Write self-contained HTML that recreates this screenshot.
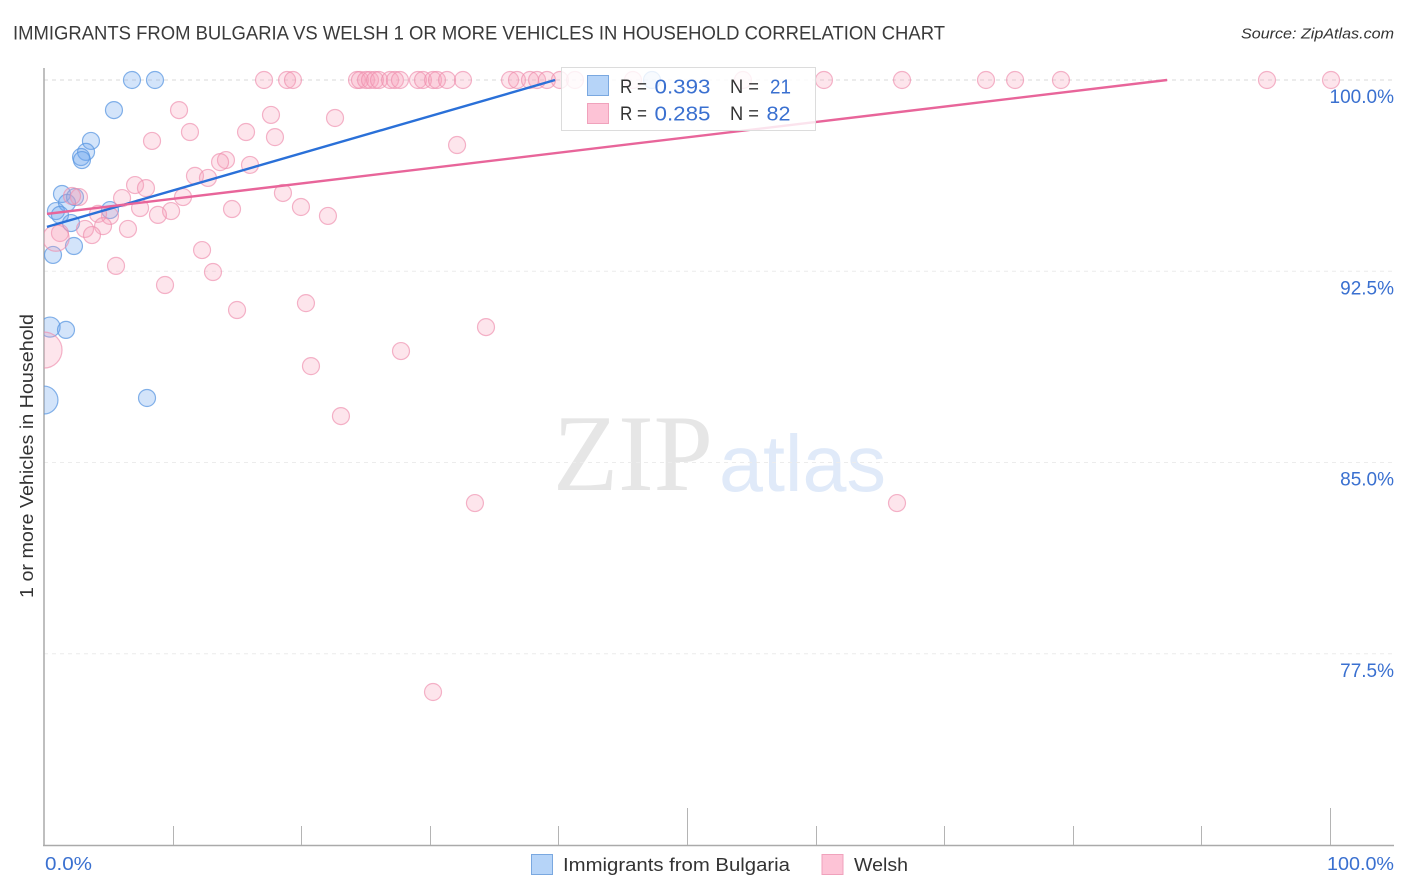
<!DOCTYPE html>
<html lang="en">
<head>
<meta charset="utf-8">
<title>Immigrants from Bulgaria vs Welsh correlation chart</title>
<style>
html,body{margin:0;padding:0;background:#fff;}
svg{display:block;font-family:"Liberation Sans",sans-serif;}
</style>
</head>
<body>
<svg id="chart" xmlns="http://www.w3.org/2000/svg" width="1406" height="892" viewBox="0 0 1406 892">
  <defs><clipPath id="plot-clip"><rect x="44" y="60" width="1360" height="785"/></clipPath></defs>
  <text x="13" y="39.5" font-size="19.5" fill="#3a3a3a" textLength="932" lengthAdjust="spacingAndGlyphs">IMMIGRANTS FROM BULGARIA VS WELSH 1 OR MORE VEHICLES IN HOUSEHOLD CORRELATION CHART</text>
  <text x="1241" y="38.5" font-size="15" font-style="italic" fill="#333" textLength="153" lengthAdjust="spacingAndGlyphs">Source: ZipAtlas.com</text>
  <g id="watermark">
    <text x="553" y="490" font-family="'Liberation Serif',serif" font-size="109" fill="#e6e6e6" textLength="160" lengthAdjust="spacingAndGlyphs">ZIP</text>
    <text x="719" y="491" font-size="80" fill="#e0eaf9" textLength="167" lengthAdjust="spacingAndGlyphs">atlas</text>
  </g>
  <g id="grid"></g>
  <g id="axes"></g>
  <g id="points" clip-path="url(#plot-clip)"></g>
  <g id="trends"></g>
  <g id="stat-legend">
    <rect x="561.5" y="67.5" width="254" height="63" fill="#fff" fill-opacity="0.82" stroke="#dcdcdc"/>
    <rect x="587.5" y="75.5" width="21" height="20" fill="#b6d4f8" stroke="#7aa8e0"/>
    <rect x="587.5" y="103.5" width="21" height="20" fill="#fdc3d6" stroke="#f0a2bc"/>
    <g font-size="19" fill="#333">
      <text x="620" y="93" textLength="27" lengthAdjust="spacingAndGlyphs">R =</text>
      <text x="620" y="120" textLength="27" lengthAdjust="spacingAndGlyphs">R =</text>
      <text x="730" y="93" textLength="29" lengthAdjust="spacingAndGlyphs">N =</text>
      <text x="730" y="120" textLength="29" lengthAdjust="spacingAndGlyphs">N =</text>
    </g>
    <g font-size="20.5" fill="#3a70d0">
      <text x="654.5" y="93.5" textLength="56" lengthAdjust="spacingAndGlyphs">0.393</text>
      <text x="654.5" y="120.5" textLength="56" lengthAdjust="spacingAndGlyphs">0.285</text>
      <text x="770" y="93.5" textLength="21" lengthAdjust="spacingAndGlyphs">21</text>
      <text x="766.5" y="120.5" textLength="24" lengthAdjust="spacingAndGlyphs">82</text>
    </g>
  </g>
  <text transform="translate(33 456) rotate(-90)" font-size="18.5" fill="#333" text-anchor="middle" textLength="284" lengthAdjust="spacingAndGlyphs">1 or more Vehicles in Household</text>
  <text x="45" y="870" font-size="18.5" fill="#3a70d0" textLength="47" lengthAdjust="spacingAndGlyphs">0.0%</text>
  <text x="1327" y="870" font-size="18.5" fill="#3a70d0" textLength="67" lengthAdjust="spacingAndGlyphs">100.0%</text>
  <g id="bottom-legend">
    <rect x="531.5" y="854.5" width="21" height="20" fill="#b6d4f8" stroke="#7aa8e0"/>
    <text x="563" y="871" font-size="18.5" fill="#333" textLength="227" lengthAdjust="spacingAndGlyphs">Immigrants from Bulgaria</text>
    <rect x="822" y="854.5" width="21" height="20" fill="#fdc3d6" stroke="#f0a2bc"/>
    <text x="854" y="871" font-size="18.5" fill="#333" textLength="54" lengthAdjust="spacingAndGlyphs">Welsh</text>
  </g>
</svg>
<script>
const yTickValues = [100, 92.5, 85, 77.5];
const yTickLabels = ["100.0%", "92.5%", "85.0%", "77.5%"];
const xTickValues = [10, 20, 30, 40, 50, 60, 70, 80, 90, 100];
const xMajorTicks = [50, 100];

const bulgariaX = [6.84,8.63,5.44,3.65,3.27,2.88,2.95,1.40,2.41,0.93,1.79,1.24,2.10,2.33,0.70,5.13,0.47,1.71,0.00,8.01,47.28];
const bulgariaY = [100,100,98.82,97.61,97.18,96.98,96.86,95.53,95.41,94.86,95.18,94.71,94.39,93.49,93.14,94.90,90.31,90.20,87.45,87.53,100];
const bulgariaWeight = [1,1,1,1,1,1,1,1,1,1,1,1,1,1,1,1,1.4,1,2.7,1,1];

const welshX = [10.50,17.65,22.63,11.35,15.71,17.96,8.40,32.12,14.15,13.69,16.02,11.74,12.75,7.08,7.93,18.58,2.72,6.07,10.81,2.18,7.47,19.98,14.62,9.88,22.08,8.86,5.13,4.20,4.59,6.53,3.19,3.73,1.24,0.93,12.29,5.60,13.14,9.41,20.37,15.01,34.37,27.76,0.00,20.76,23.09,33.51,66.33,30.25,
17.11,18.90,19.36,24.34,24.57,25.04,25.35,25.74,26.05,26.91,27.29,27.68,29.08,29.47,30.25,30.56,31.34,32.58,36.24,36.78,37.79,38.34,39.11,40.12,41.29,45.80,54.35,60.65,66.72,73.25,75.51,79.08,95.10,100.08];
const welshY = [98.82,98.63,98.51,97.96,97.96,97.76,97.61,97.45,96.86,96.78,96.67,96.24,96.16,95.88,95.76,95.57,95.41,95.37,95.41,95.45,94.98,95.02,94.94,94.86,94.67,94.71,94.67,94.75,94.27,94.16,94.16,93.92,94.00,93.80,93.33,92.71,92.47,91.96,91.25,90.98,90.31,89.37,89.41,88.78,86.82,83.41,83.41,76.00,
100,100,100,100,100,100,100,100,100,100,100,100,100,100,100,100,100,100,100,100,100,100,100,100,100,100,100,100,100,100,100,100,100,100];
const welshBigIndexes = [33, 42];
const welshBigWeights = [2.4, 4.5];

const bulgariaTrendX = [0.23, 39.74];
const bulgariaTrendY = [94.24, 100];
const welshTrendX = [0.23, 87.33];
const welshTrendY = [94.75, 100];

const SVG_NS = "http://www.w3.org/2000/svg";
const xScale = v => 44 + v * 12.86;
const yScale = v => 80 + (100 - v) * 25.5;
function make(tag, attrs, parent) {
  const el = document.createElementNS(SVG_NS, tag);
  for (const k in attrs) el.setAttribute(k, attrs[k]);
  parent.appendChild(el);
  return el;
}
const gridG = document.getElementById("grid");
const axesG = document.getElementById("axes");
const pointsG = document.getElementById("points");
const trendsG = document.getElementById("trends");

yTickValues.forEach((v, i) => {
  const line = make("line", {x1: 44, x2: 1394, y1: yScale(v), y2: yScale(v), stroke: i === 0 ? "#d8d8d8" : "#ececec", "stroke-width": 1, "stroke-dasharray": "4 4"}, gridG);
  
  
  const t = make("text", {x: 1394, y: yScale(v) + 23, "font-size": 19, fill: "#3a70d0", "text-anchor": "end"}, gridG);
  t.textContent = yTickLabels[i];
  
  
});

const yAxis = make("line", {x1: 44, x2: 44, y1: 68, y2: 845.5, stroke: "#aaa", "stroke-width": 1.5}, axesG);


const xAxis = make("line", {x1: 43, x2: 1394, y1: 845.5, y2: 845.5, stroke: "#aaa", "stroke-width": 1.5}, axesG);


xTickValues.forEach(v => {
  const px = Math.round(xScale(v)) + 0.5;
  const tick = make("line", {x1: px, x2: px, y1: xMajorTicks.includes(v) ? 808 : 826, y2: 845, stroke: "#b4b4b4", "stroke-width": 1}, axesG);
  
  
});

function radius(w) { return 8.5 * Math.sqrt(w); }
bulgariaX.forEach((v, i) => {
  const c = make("circle", {cx: xScale(v), cy: yScale(bulgariaY[i]), r: radius(bulgariaWeight[i]), fill: "#6ea6ee", "fill-opacity": 0.3, stroke: "#5c98e2", "stroke-opacity": 0.75, "stroke-width": 1.2}, pointsG);
  
  
});
welshX.forEach((v, i) => {
  const at = welshBigIndexes.indexOf(i);
  const w = at >= 0 ? welshBigWeights[at] : 1;
  const c = make("circle", {cx: xScale(v), cy: yScale(welshY[i]), r: radius(w), fill: "#f9a0bc", "fill-opacity": 0.28, stroke: "#ee8cac", "stroke-opacity": 0.65, "stroke-width": 1.2}, pointsG);
  
  
});

const blueTrend = make("line", {x1: xScale(bulgariaTrendX[0]), y1: yScale(bulgariaTrendY[0]), x2: xScale(bulgariaTrendX[1]), y2: yScale(bulgariaTrendY[1]), stroke: "#2a70d8", "stroke-width": 2.4}, trendsG);


const pinkTrend = make("line", {x1: xScale(welshTrendX[0]), y1: yScale(welshTrendY[0]), x2: xScale(welshTrendX[1]), y2: yScale(welshTrendY[1]), stroke: "#e8659a", "stroke-width": 2.4}, trendsG);


</script>
</body>
</html>
